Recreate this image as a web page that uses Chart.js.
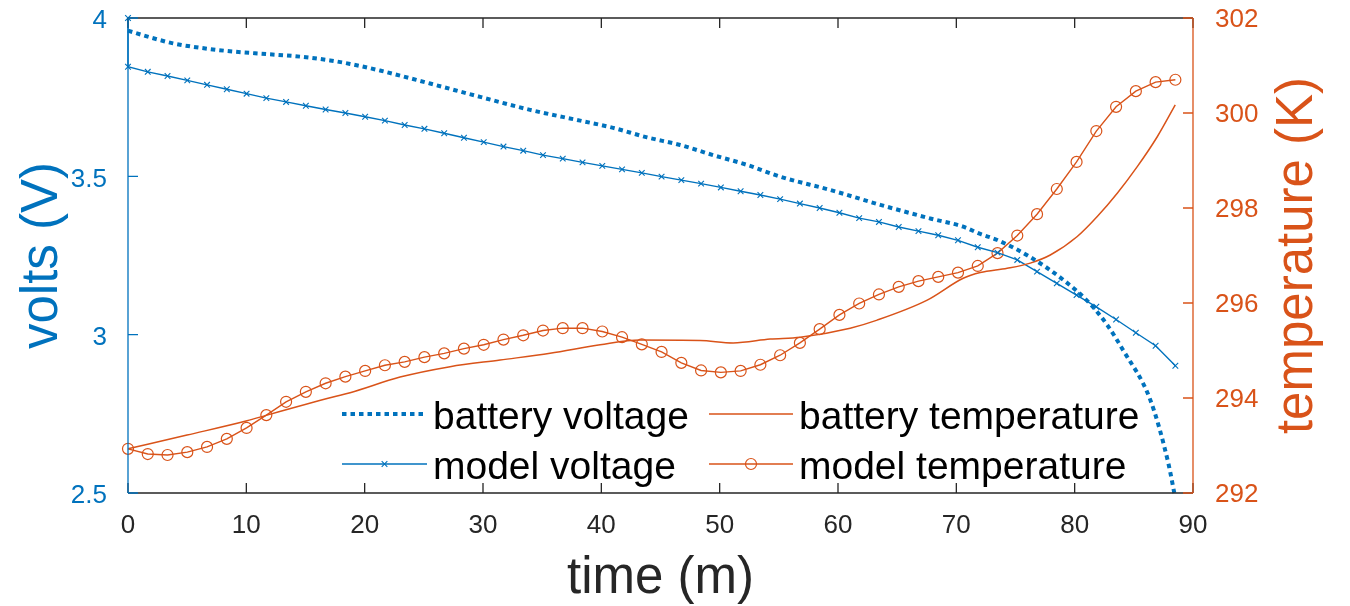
<!DOCTYPE html>
<html>
<head>
<meta charset="utf-8">
<script src="https://cdn.jsdelivr.net/npm/chart.js@4.4.1/dist/chart.umd.min.js"></script>
<style>
  html, body { margin: 0; padding: 0; background: #fff; }
  #wrap { width: 1350px; height: 606px; }
</style>
</head>
<body>
<div id="wrap"><canvas id="chart" width="1350" height="606"></canvas></div>
<script>
// --- data ---
const seriesNames = ["battery voltage", "battery temperature", "model voltage", "model temperature"];

// measured battery voltage (V)
const batteryVoltTime = [0, 1.86, 3.80, 6.09, 8.88, 11.75, 14.54, 17.08, 18.77, 21.30, 25.53, 29.75,
  33.98, 38.21, 41.00, 43.87, 46.66, 49.45, 52.32, 55.11, 59.34, 63.57, 67.79, 70.58, 72.02, 73.46,
  76.25, 79.04, 81.32, 82.76, 84.11, 86.39, 87.91, 88.42];
const batteryVoltage = [3.960, 3.939, 3.920, 3.906, 3.894, 3.886, 3.878, 3.866, 3.855, 3.834, 3.793, 3.751,
  3.710, 3.676, 3.653, 3.623, 3.599, 3.567, 3.536, 3.499, 3.457, 3.410, 3.367, 3.341, 3.318, 3.299,
  3.245, 3.173, 3.097, 3.030, 2.950, 2.794, 2.595, 2.500];

// measured battery temperature (K)
const batteryTempTime = [0, 4.99, 10.06, 11.75, 17.33, 18.77, 22.99, 27.22, 31.45, 35.67, 39.90, 43.28,
  48.35, 51.14, 54.27, 56.81, 61.03, 63.31, 67.54, 70.58, 72.02, 74.30, 76.25, 77.94, 80.22, 81.91,
  83.60, 85.29, 86.98, 88.50];
const batteryTemp = [292.93, 293.22, 293.52, 293.64, 294.02, 294.11, 294.44, 294.66, 294.80, 294.94, 295.12, 295.22,
  295.21, 295.16, 295.24, 295.28, 295.47, 295.64, 296.06, 296.52, 296.64, 296.73, 296.84, 297.01, 297.40, 297.82,
  298.31, 298.87, 299.50, 300.17];

// model output, one marker per sample
const modelTime = [0, 1.67, 3.34, 5.01, 6.68, 8.35, 10.02, 11.69, 13.36, 15.03, 16.70, 18.37, 20.04, 21.71,
  23.38, 25.05, 26.72, 28.39, 30.06, 31.73, 33.40, 35.07, 36.74, 38.41, 40.08, 41.75, 43.42, 45.09, 46.76,
  48.43, 50.10, 51.77, 53.44, 55.11, 56.78, 58.45, 60.12, 61.79, 63.46, 65.13, 66.80, 68.47, 70.14, 71.81,
  73.48, 75.15, 76.82, 78.49, 80.16, 81.83, 83.50, 85.17, 86.84, 88.51];
const modelVoltStart = 4.0; // first sample sits on the top-left corner
const modelVoltage = [3.846, 3.830, 3.817, 3.803, 3.789, 3.775, 3.761, 3.747, 3.735, 3.723, 3.711, 3.700, 3.688,
  3.676, 3.662, 3.650, 3.636, 3.622, 3.608, 3.594, 3.581, 3.567, 3.556, 3.544, 3.533, 3.522, 3.511, 3.499,
  3.488, 3.477, 3.465, 3.453, 3.441, 3.428, 3.414, 3.400, 3.385, 3.368, 3.356, 3.340, 3.327, 3.314, 3.298,
  3.276, 3.259, 3.236, 3.199, 3.162, 3.125, 3.088, 3.048, 3.006, 2.965, 2.902];
const modelTemp = [292.93, 292.82, 292.80, 292.86, 292.97, 293.14, 293.37, 293.64, 293.92, 294.13, 294.31, 294.45,
  294.57, 294.69, 294.76, 294.86, 294.94, 295.04, 295.12, 295.23, 295.32, 295.42, 295.47, 295.47, 295.40, 295.28,
  295.13, 294.97, 294.74, 294.58, 294.54, 294.57, 294.70, 294.90, 295.16, 295.45, 295.75, 295.99, 296.18, 296.34,
  296.46, 296.55, 296.64, 296.78, 297.05, 297.42, 297.87, 298.40, 298.97, 299.62, 300.13, 300.46, 300.65, 300.70];

// axis ranges / ticks
const timeTicks = [0, 10, 20, 30, 40, 50, 60, 70, 80, 90];
const voltTicks = [2.5, 3, 3.5, 4];
const tempTicks = [292, 294, 296, 298, 300, 302];

const BLUE = "#0072BD";
const ORANGE = "#D95319";
const DARK = "#262626";
const FONT = "'Liberation Sans', Arial, Helvetica, sans-serif";

Chart.defaults.font.family = FONT;

const pts = (xs, ys) => xs.map((x, i) => ({ x: x, y: ys[i] }));

// axes box, inward ticks, right title and the legend
const framePlugin = {
  id: "frame",
  afterDatasetsDraw(chart) {
    const { ctx, chartArea: a, scales } = chart;
    ctx.save();
    ctx.setLineDash([]);
    ctx.lineWidth = 1.3;

    // x ticks (bottom + top)
    ctx.strokeStyle = DARK;
    timeTicks.forEach((t) => {
      const px = scales.x.getPixelForValue(t);
      ctx.beginPath();
      ctx.moveTo(px, a.bottom); ctx.lineTo(px, a.bottom - 10);
      ctx.moveTo(px, a.top); ctx.lineTo(px, a.top + 10);
      ctx.stroke();
    });
    ctx.beginPath();
    ctx.moveTo(a.left, a.top); ctx.lineTo(a.right, a.top);
    ctx.moveTo(a.left, a.bottom); ctx.lineTo(a.right, a.bottom);
    ctx.stroke();

    // left axis
    ctx.strokeStyle = BLUE;
    ctx.beginPath();
    ctx.moveTo(a.left, a.top); ctx.lineTo(a.left, a.bottom);
    voltTicks.forEach((v) => {
      const py = scales.y.getPixelForValue(v);
      ctx.moveTo(a.left, py); ctx.lineTo(a.left + 10, py);
    });
    ctx.stroke();

    // right axis
    ctx.strokeStyle = ORANGE;
    ctx.beginPath();
    ctx.moveTo(a.right, a.top); ctx.lineTo(a.right, a.bottom);
    tempTicks.forEach((v) => {
      const py = scales.y2.getPixelForValue(v);
      ctx.moveTo(a.right, py); ctx.lineTo(a.right - 10, py);
    });
    ctx.stroke();

    // right title reads bottom-to-top like the left one
    ctx.fillStyle = ORANGE;
    ctx.font = "51px " + FONT;
    ctx.translate(1312, (a.top + a.bottom) / 2);
    ctx.rotate(-Math.PI / 2);
    ctx.textAlign = "center";
    ctx.textBaseline = "alphabetic";
    ctx.fillText("temperature (K)", 0, 0);
    ctx.restore();

    // legend, two columns
    const slots = [
      { ds: 0, x1: 342, x2: 427, y: 414 },
      { ds: 1, x1: 709, x2: 793, y: 414 },
      { ds: 2, x1: 342, x2: 427, y: 464 },
      { ds: 3, x1: 709, x2: 793, y: 464 },
    ];
    ctx.save();
    slots.forEach((s) => {
      const d = chart.data.datasets[s.ds];
      ctx.strokeStyle = d.borderColor;
      ctx.lineWidth = d.borderWidth;
      ctx.lineCap = "butt";
      ctx.setLineDash(d.borderDash || []);
      ctx.beginPath();
      ctx.moveTo(s.x1, s.y); ctx.lineTo(s.x2, s.y);
      ctx.stroke();
      ctx.setLineDash([]);
      if (d.pointRadius > 0) {
        ctx.strokeStyle = d.pointBorderColor;
        ctx.fillStyle = "rgba(0,0,0,0)";
        ctx.lineWidth = d.pointBorderWidth;
        Chart.helpers.drawPoint(ctx, {
          pointStyle: d.pointStyle, radius: d.pointRadius,
          borderWidth: d.pointBorderWidth, rotation: 0,
        }, (s.x1 + s.x2) / 2, s.y);
      }
      ctx.fillStyle = "#000";
      ctx.font = "39px " + FONT;
      ctx.textAlign = "left";
      ctx.textBaseline = "alphabetic";
      ctx.fillText(seriesNames[s.ds], s.x2 + 6, s.y + 15);
    });
    ctx.restore();
  },
};

const fmt = (v) => String(Math.round(v * 100) / 100);

new Chart(document.getElementById("chart"), {
  type: "line",
  data: {
    datasets: [
      {
        label: seriesNames[0],
        data: pts(batteryVoltTime, batteryVoltage),
        yAxisID: "y",
        borderColor: BLUE,
        borderWidth: 4,
        borderDash: [4.5, 4],
        borderCapStyle: "butt",
        pointRadius: 0,
        cubicInterpolationMode: "monotone",
        clip: false,
      },
      {
        label: seriesNames[1],
        data: pts(batteryTempTime, batteryTemp),
        yAxisID: "y2",
        borderColor: ORANGE,
        borderWidth: 1.5,
        pointRadius: 0,
        cubicInterpolationMode: "monotone",
        clip: false,
      },
      {
        label: seriesNames[2],
        data: [{ x: 0, y: modelVoltStart }].concat(pts(modelTime, modelVoltage)),
        yAxisID: "y",
        borderColor: BLUE,
        borderWidth: 1.4,
        tension: 0,
        pointStyle: "crossRot",
        pointRadius: 4,
        pointBorderWidth: 1.1,
        pointBorderColor: BLUE,
        pointBackgroundColor: "rgba(0,0,0,0)",
        clip: false,
      },
      {
        label: seriesNames[3],
        data: pts(modelTime, modelTemp),
        yAxisID: "y2",
        borderColor: ORANGE,
        borderWidth: 1.4,
        tension: 0,
        pointStyle: "circle",
        pointRadius: 5.5,
        pointBorderWidth: 1.2,
        pointBorderColor: ORANGE,
        pointBackgroundColor: "rgba(0,0,0,0)",
        clip: false,
      },
    ],
  },
  options: {
    responsive: false,
    animation: false,
    events: [],
    layout: { padding: { top: 18 } },
    plugins: { legend: { display: false }, tooltip: { enabled: false } },
    scales: {
      x: {
        type: "linear",
        position: "bottom",
        min: timeTicks[0],
        max: timeTicks[timeTicks.length - 1],
        afterFit: (s) => { s.height = 113; s.paddingLeft = 0; s.paddingRight = 0; },
        afterBuildTicks: (s) => { s.ticks = timeTicks.map((v) => ({ value: v })); },
        grid: { display: false },
        border: { display: false },
        ticks: { padding: 9, color: DARK, font: { size: 26 }, callback: fmt },
        title: {
          display: true, text: "time (m)", color: DARK,
          font: { size: 51, lineHeight: 1 }, padding: { top: 0, bottom: 2 },
        },
      },
      y: {
        type: "linear",
        position: "left",
        min: voltTicks[0],
        max: voltTicks[voltTicks.length - 1],
        afterFit: (s) => { s.width = 128; s.paddingTop = 0; s.paddingBottom = 0; },
        afterBuildTicks: (s) => { s.ticks = voltTicks.map((v) => ({ value: v })); },
        grid: { display: false },
        border: { display: false },
        ticks: { padding: 13, labelOffset: 3, color: BLUE, font: { size: 26 }, callback: fmt },
        title: {
          display: true, text: "volts (V)", color: BLUE,
          font: { size: 51, lineHeight: 1 }, padding: { top: 17, bottom: 0 },
        },
      },
      y2: {
        type: "linear",
        position: "right",
        min: tempTicks[0],
        max: tempTicks[tempTicks.length - 1],
        afterFit: (s) => { s.width = 157; s.paddingTop = 0; s.paddingBottom = 0; },
        afterBuildTicks: (s) => { s.ticks = tempTicks.map((v) => ({ value: v })); },
        grid: { display: false },
        border: { display: false },
        ticks: { padding: 14, labelOffset: 2, color: ORANGE, font: { size: 26 }, callback: fmt },
      },
    },
  },
  plugins: [framePlugin],
});
</script>
</body>
</html>
